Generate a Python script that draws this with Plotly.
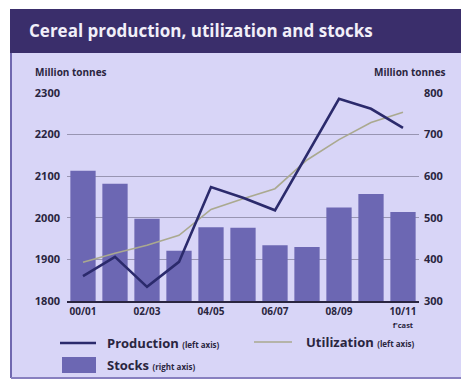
import plotly.graph_objects as go

# Crop seasons (the last one is a forecast)
seasons = ["00/01", "01/02", "02/03", "03/04", "04/05", "05/06",
           "06/07", "07/08", "08/09", "09/10", "10/11"]
# Million tonnes, left axis
production = [1860, 1906, 1834, 1894, 2074, 2048, 2018, 2153, 2286, 2262, 2216]
utilization = [1893, 1915, 1934, 1958, 2020, 2046, 2070, 2139, 2188, 2229, 2254]
# Million tonnes, right axis
stocks = [613, 582, 498, 421, 477, 476, 434, 430, 525, 557, 514]

left_ticks = [1800, 1900, 2000, 2100, 2200, 2300]
right_ticks = [300, 400, 500, 600, 700, 800]
labelled_seasons = ["00/01", "02/03", "04/05", "06/07", "08/09", "10/11"]
labelled_text = ["00/01", "02/03", "04/05", "06/07", "08/09",
                 "10/11<br><span style='font-size:7.5px'>f'cast</span>"]

W, H = 461, 385
L, R, T, B = 67, 42, 93, 84
PW, PH = W - L - R, H - T - B


def fx(x):
    return (x - L) / PW


def fy(y):
    return (H - B - y) / PH


FONT = "Open Sans"
INK = "#2a2540"
BAND = "#3a2e6b"
PANEL = "#d8d5f7"
BAR = "#6c67b3"
PROD = "#2b2a6c"
UTIL = "#aaa98f"
GRID = "#9895b2"

fig = go.Figure()

fig.add_trace(go.Bar(
    x=seasons, y=stocks, name="Stocks", marker=dict(color=BAR, line=dict(width=0)),
    yaxis="y", hoverinfo="x+y",
))
fig.add_trace(go.Scatter(
    x=seasons, y=utilization, name="Utilization", mode="lines",
    line=dict(color=UTIL, width=1.6), yaxis="y2",
))
fig.add_trace(go.Scatter(
    x=seasons, y=production, name="Production", mode="lines",
    line=dict(color=PROD, width=2.6), yaxis="y2",
))

shapes = [
    # panel background
    dict(type="rect", xref="paper", yref="paper", x0=fx(11), x1=fx(W + 5),
         y0=fy(378), y1=fy(53), fillcolor=PANEL, line=dict(width=0), layer="below"),
    # title band
    dict(type="rect", xref="paper", yref="paper", x0=fx(10), x1=fx(W + 5),
         y0=fy(53), y1=fy(9), fillcolor=BAND, line=dict(width=0), layer="below"),
    # panel frame, left and bottom
    dict(type="line", xref="paper", yref="paper", x0=fx(11), x1=fx(11),
         y0=fy(378), y1=fy(53), line=dict(color="#7068b0", width=2), layer="below"),
    dict(type="line", xref="paper", yref="paper", x0=fx(11), x1=fx(W + 5),
         y0=fy(378), y1=fy(378), line=dict(color="#8880c0", width=2), layer="below"),
    # legend swatches
    dict(type="line", xref="paper", yref="paper", x0=fx(60), x1=fx(96),
         y0=fy(343), y1=fy(343), line=dict(color=PROD, width=2.6)),
    dict(type="line", xref="paper", yref="paper", x0=fx(254), x1=fx(292),
         y0=fy(342), y1=fy(342), line=dict(color=UTIL, width=1.6)),
    dict(type="rect", xref="paper", yref="paper", x0=fx(62), x1=fx(96),
         y0=fy(373), y1=fy(357), fillcolor=BAR, line=dict(width=0)),
]

annotations = [
    dict(text="<b>Cereal production, utilization and stocks</b>", xref="paper", yref="paper",
         x=fx(27), y=fy(31), xanchor="left", yanchor="middle", showarrow=False,
         font=dict(family=FONT, size=17, color="#f1eff9")),
    dict(text="<b>Million tonnes</b>", xref="paper", yref="paper",
         x=fx(33), y=fy(72), xanchor="left", yanchor="middle", showarrow=False,
         font=dict(family=FONT, size=10, color=INK)),
    dict(text="<b>Million tonnes</b>", xref="paper", yref="paper",
         x=fx(448), y=fy(72), xanchor="right", yanchor="middle", showarrow=False,
         font=dict(family=FONT, size=10, color=INK)),
    dict(text="<b>Production</b> <span style='font-size:8px'><b>(left axis)</b></span>",
         xref="paper", yref="paper", x=fx(105), y=fy(343), xanchor="left",
         yanchor="middle", showarrow=False, font=dict(family=FONT, size=13, color=INK)),
    dict(text="<b>Utilization</b> <span style='font-size:8px'><b>(left axis)</b></span>",
         xref="paper", yref="paper", x=fx(304), y=fy(342), xanchor="left",
         yanchor="middle", showarrow=False, font=dict(family=FONT, size=13, color=INK)),
    dict(text="<b>Stocks</b> <span style='font-size:8px'><b>(right axis)</b></span>",
         xref="paper", yref="paper", x=fx(105), y=fy(365), xanchor="left",
         yanchor="middle", showarrow=False, font=dict(family=FONT, size=13, color=INK)),
]

fig.update_layout(
    width=W, height=H,
    margin=dict(l=L, r=R, t=T, b=B, pad=0),
    paper_bgcolor="white",
    plot_bgcolor="rgba(0,0,0,0)",
    showlegend=False,
    bargap=0.21,
    font=dict(family=FONT, color=INK),
    xaxis=dict(
        type="category", categoryorder="array", categoryarray=seasons,
        range=[-0.5, len(seasons) - 0.5],
        tickmode="array", tickvals=labelled_seasons, ticktext=labelled_text,
        tickfont=dict(family=FONT, size=10, color=INK, weight="bold"),
        showline=True, linecolor="#2a2540", linewidth=2,
        showgrid=False, zeroline=False, ticks="", ticklabelstandoff=0,
        fixedrange=True,
    ),
    yaxis=dict(
        side="right", range=[300, 800], tickvals=right_ticks,
        tickfont=dict(family=FONT, size=11, color=INK, weight="bold"),
        showgrid=True, gridcolor=GRID, gridwidth=1,
        zeroline=False, ticks="", ticklabelstandoff=4, fixedrange=True,
    ),
    yaxis2=dict(
        side="left", overlaying="y", anchor="x", range=[1800, 2300],
        tickvals=left_ticks,
        tickfont=dict(family=FONT, size=11, color=INK, weight="bold"),
        showgrid=False, zeroline=False, ticks="", ticklabelstandoff=6,
        fixedrange=True,
    ),
    shapes=shapes,
    annotations=annotations,
)

fig.write_html("out.html")
